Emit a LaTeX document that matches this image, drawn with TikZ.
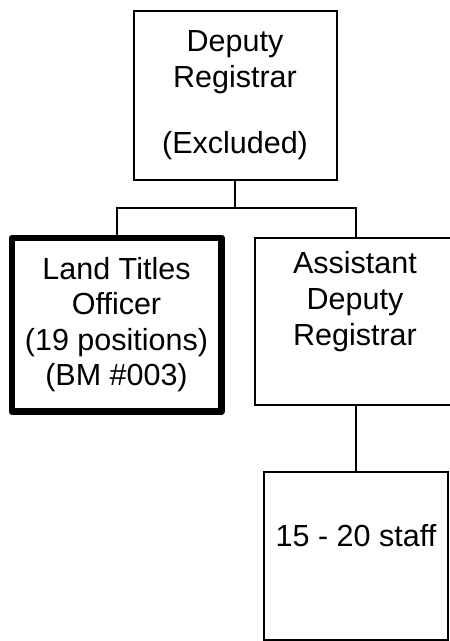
\documentclass[tikz,border=0pt]{standalone}
\usepackage{fontspec}
\setmainfont{Liberation Sans}
\tikzset{
  box/.style={draw, rectangle, line width=2pt, inner sep=0pt},
  thickbox/.style={box, line width=6.7pt, line join=round},
  lbl/.style={inner sep=0pt, anchor=base},
  link/.style={line width=2pt},
}
\newcommand{\boxtext}[2]{{\fontsize{30.5}{#1}\selectfont\begin{tabular}[t]{@{}c@{}}#2\end{tabular}}}
\begin{document}
\begin{tikzpicture}[x=1pt,y=-1pt]
  \useasboundingbox (0,0) rectangle (450,641);
  \clip (0,0) rectangle (450,641);
  % boxes
  \node[box, minimum width=203pt, minimum height=169pt] (dr) at (235,95) {};
  \node[thickbox, minimum width=209.5pt, minimum height=173.5pt] (lto) at (116.75,324.75) {};
  \node[box, minimum width=202pt, minimum height=167pt] (adr) at (356,321) {};
  \node[box, minimum width=184pt, minimum height=168pt] (staff) at (356,556) {};
  % texts
  \node[lbl] (drt) at (235,51) {\boxtext{36}{Deputy\\Registrar\\[30pt](Excluded)}};
  \node[lbl] (ltot) at (116.5,279) {\boxtext{35.5}{Land Titles\\Officer\\(19 positions)\\(BM \#003)}};
  \node[lbl] (adrt) at (355,273) {\boxtext{36}{Assistant\\Deputy\\Registrar}};
  \node[lbl] (stafft) at (356,546.7) {\boxtext{36}{15 - 20 staff}};
  % connectors
  \coordinate (bus) at (235,207.5);
  \draw[link] (dr.south) -- (bus);
  \draw[link] (lto.north) |- (bus) -| (adr.north);
  \draw[link] (adr.south) -- (staff.north);
\end{tikzpicture}
\end{document}
